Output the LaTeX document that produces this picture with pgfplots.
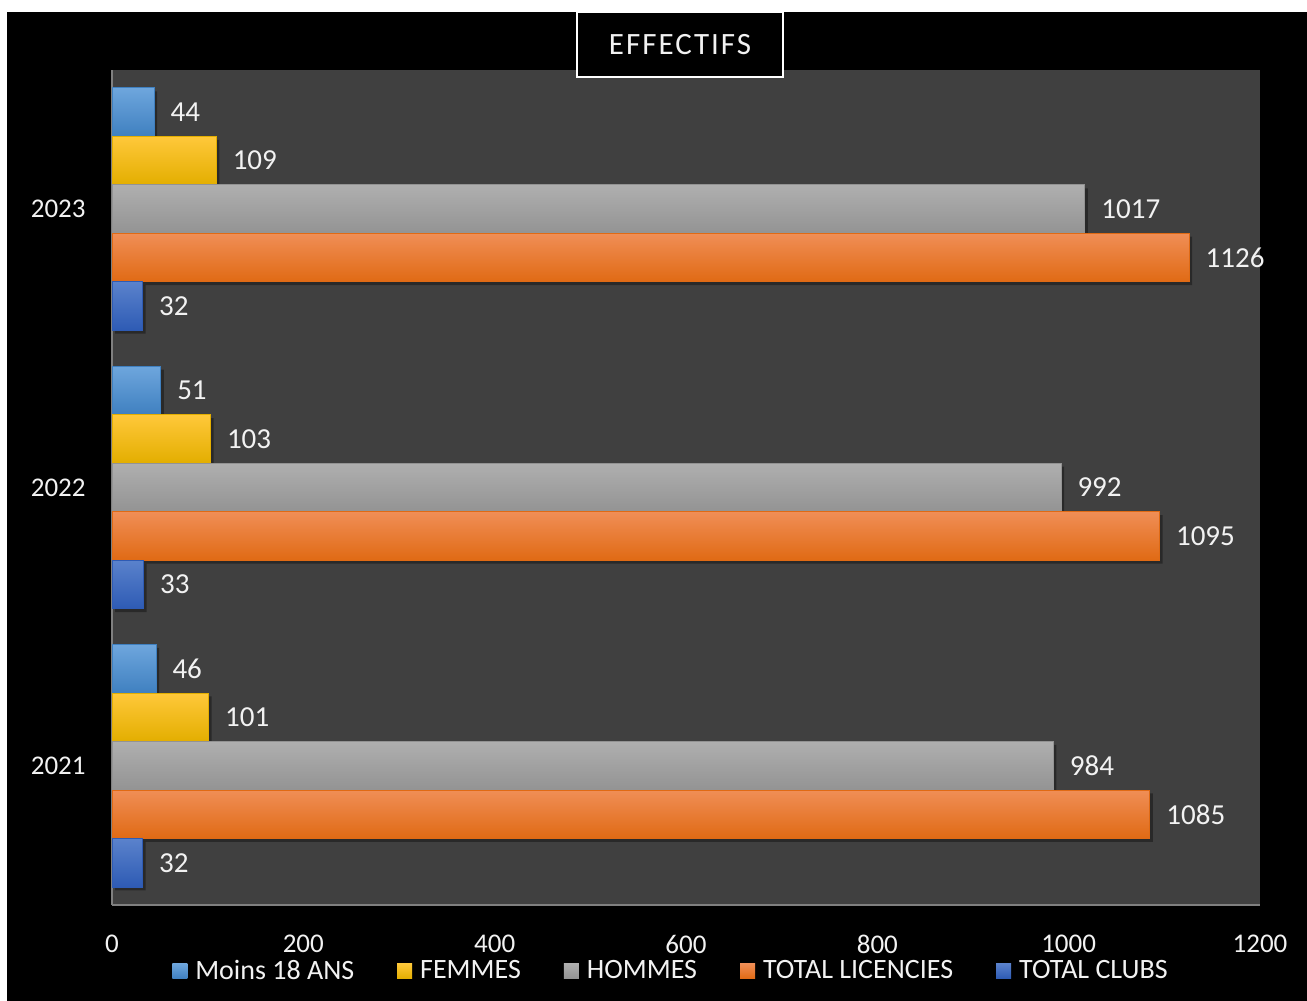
\documentclass[border=0pt]{standalone}
\usepackage{fontspec}
\setmainfont{Carlito}
\usepackage{pgfplots}
\usepackage{pgfplotstable}
\pgfplotsset{compat=1.18}

\definecolor{plotbg}{HTML}{404040}
\definecolor{axisgray}{HTML}{808080}
\definecolor{txt}{HTML}{F2F2F2}
\definecolor{moinsT}{HTML}{6EA6DD}\definecolor{moinsM}{HTML}{5499D9}\definecolor{moinsB}{HTML}{3F80C0}
\definecolor{femT}{HTML}{FFC83A}\definecolor{femM}{HTML}{FFC000}\definecolor{femB}{HTML}{E3AE00}
\definecolor{homT}{HTML}{AFAFAF}\definecolor{homM}{HTML}{A5A5A5}\definecolor{homB}{HTML}{939393}
\definecolor{licT}{HTML}{F08E56}\definecolor{licM}{HTML}{F47D2A}\definecolor{licB}{HTML}{E06A14}
\definecolor{clubT}{HTML}{5A82CC}\definecolor{clubM}{HTML}{4472C4}\definecolor{clubB}{HTML}{2E5BB4}

% shaded bar styles, one per series
\pgfplotsset{
  moins/.style={top color=moinsT, middle color=moinsM, bottom color=moinsB, draw=moinsB},
  femmes/.style={top color=femT, middle color=femM, bottom color=femB, draw=femB},
  hommes/.style={top color=homT, middle color=homM, bottom color=homB, draw=homB},
  licencies/.style={top color=licT, middle color=licM, bottom color=licB, draw=licB},
  clubs/.style={top color=clubT, middle color=clubM, bottom color=clubB, draw=clubB},
  shadowbar/.style={fill=black, draw=none, fill opacity=0.35, xshift=1.5pt,
    forget plot, nodes near coords=\relax},
}

% 0 = 2021, 1 = 2022, 2 = 2023
\pgfplotstableread{
year moins femmes hommes licencies clubs
0    46    101    984    1085      32
1    51    103    992    1095      33
2    44    109    1017   1126      32
}\effectifs

\begin{document}
\begin{tikzpicture}
\fill[white] (0,0) rectangle (653.5pt,500.5pt);
\fill[black] (3.5pt,0) rectangle (653.5pt,494.5pt);
\begin{axis}[
  at={(56pt,48pt)}, anchor=south west,
  scale only axis, width=574pt, height=417.5pt,
  xbar, bar width=0.1742,
  xmin=0, xmax=1200, ymin=-0.5, ymax=2.5,
  xtick={0,200,...,1200},
  ytick={0,1,2}, yticklabels={2021,2022,2023},
  axis background/.style={fill=plotbg},
  axis x line*=bottom, axis y line*=left,
  axis line style={-, draw=axisgray, line width=0.8pt},
  major tick length=0pt,
  tick label style={text=txt, font=\fontsize{13.5}{16}\selectfont},
  xticklabel style={anchor=north, inner sep=0pt, yshift=-15pt},
  yticklabel style={anchor=east, inner sep=0pt, xshift=-13pt},
  /pgf/number format/.cd, 1000 sep={}, assume math mode=true, /pgfplots/.cd,
  every node near coord/.append style={anchor=west, inner sep=0pt, xshift=8pt,
    text=txt, font=\fontsize{14.5}{17}\selectfont},
  every axis plot/.append style={line width=0.5pt},
  legend image code/.code={\fill[#1, draw=none] (0pt,-3.75pt) rectangle (7.5pt,3.75pt);},
  legend style={at={(0.5,0)}, anchor=center, xshift=-8pt, yshift=-33pt,
    draw=none, fill=none, text=txt, font=\fontsize{14}{16.8}\selectfont,
    legend columns=-1, nodes={inner sep=0pt},
    /tikz/every odd column/.append style={column sep=4pt},
    /tikz/every even column/.append style={column sep=21.5pt}},
]
% soft drop shadows under the bars
\addplot[shadowbar, bar shift=0.3484-0.012] table[x=moins, y=year] {\effectifs};
\addplot[shadowbar, bar shift=0.1742-0.012] table[x=femmes, y=year] {\effectifs};
\addplot[shadowbar, bar shift=-0.012] table[x=hommes, y=year] {\effectifs};
\addplot[shadowbar, bar shift=-0.1742-0.012] table[x=licencies, y=year] {\effectifs};
\addplot[shadowbar, bar shift=-0.3484-0.012] table[x=clubs, y=year] {\effectifs};
% one plot per bar so that each bar gets its own gradient
\pgfplotsinvokeforeach{0,1,2}{
  \addplot[moins, bar shift=0.3484, forget plot, nodes near coords,
    restrict y to domain=#1:#1] table[x=moins, y=year] {\effectifs};
  \addplot[femmes, bar shift=0.1742, forget plot, nodes near coords,
    restrict y to domain=#1:#1] table[x=femmes, y=year] {\effectifs};
  \addplot[hommes, bar shift=0, forget plot, nodes near coords,
    restrict y to domain=#1:#1] table[x=hommes, y=year] {\effectifs};
  \addplot[licencies, bar shift=-0.1742, forget plot, nodes near coords,
    restrict y to domain=#1:#1] table[x=licencies, y=year] {\effectifs};
  \addplot[clubs, bar shift=-0.3484, forget plot, nodes near coords,
    restrict y to domain=#1:#1] table[x=clubs, y=year] {\effectifs};
}
\addlegendimage{moins}\addlegendentry{Moins 18 ANS}
\addlegendimage{femmes}\addlegendentry{FEMMES}
\addlegendimage{hommes}\addlegendentry{HOMMES}
\addlegendimage{licencies}\addlegendentry{TOTAL LICENCIES}
\addlegendimage{clubs}\addlegendentry{TOTAL CLUBS}
\end{axis}
\node[draw=white, line width=1.2pt, fill=black, text=txt, inner sep=0pt,
  minimum width=103pt, minimum height=32.5pt,
  font=\fontsize{15.5}{18}\selectfont\addfontfeature{LetterSpace=6.5}]
  at (340pt,478.25pt) {EFFECTIFS};
\end{tikzpicture}
\end{document}
